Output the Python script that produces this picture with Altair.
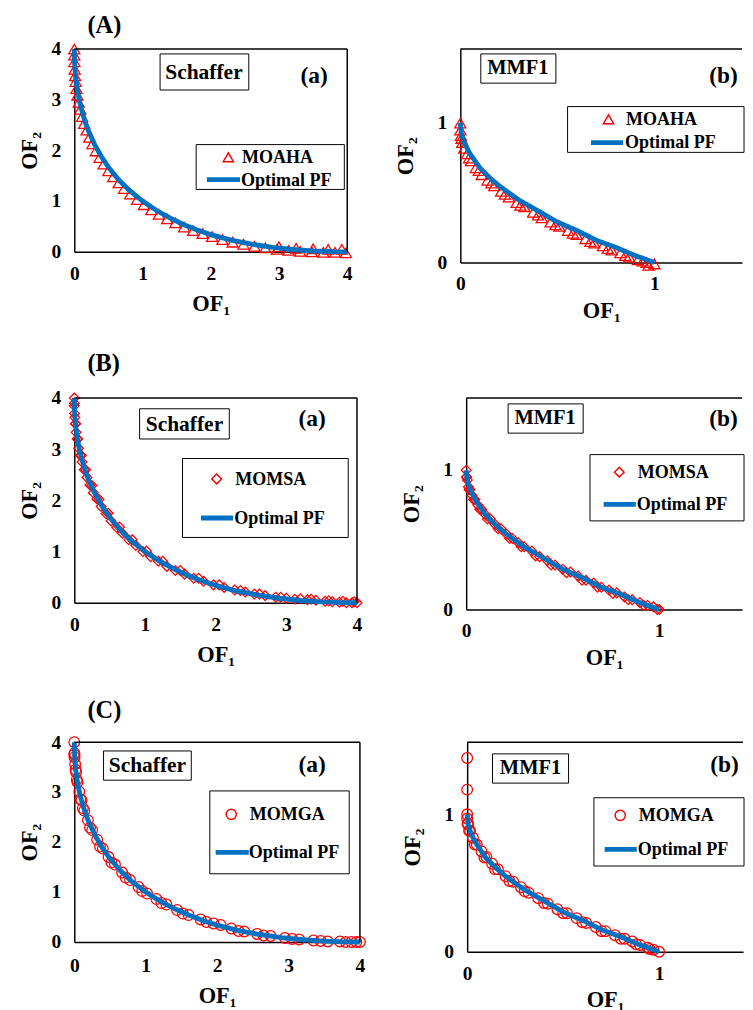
import altair as alt
import pandas as pd

FONT = "Liberation Serif"
RED = "#FF0000"
BLUE = "#0070C0"

# ---------------- data ----------------
# Optimal Pareto fronts
sch_pf_f1 = [0, 0.005, 0.01, 0.02, 0.04, 0.07, 0.1, 0.15, 0.2, 0.3, 0.4, 0.5, 0.65, 0.8, 1.0,
             1.2, 1.4, 1.6, 1.8, 2.0, 2.3, 2.6, 2.9, 3.2, 3.5, 3.8, 4.0]
sch_pf_f2 = [4.0, 3.72, 3.61, 3.45, 3.24, 3.01, 2.84, 2.60, 2.41, 2.11, 1.87, 1.67, 1.42, 1.22, 1.0,
             0.82, 0.67, 0.54, 0.43, 0.34, 0.23, 0.15, 0.088, 0.045, 0.017, 0.003, 0.0]
mmf_pf_f1 = [0, 0.005, 0.02, 0.05, 0.1, 0.15, 0.2, 0.3, 0.4, 0.5, 0.6, 0.7, 0.8, 0.9, 1.0]
mmf_pf_f2 = [1.0, 0.93, 0.86, 0.78, 0.68, 0.61, 0.55, 0.45, 0.37, 0.29, 0.23, 0.16, 0.11, 0.05, 0.0]

# (A) MOAHA
moaha_sch_f1 = [0.0, 0.0, 0.002, 0.006, 0.012, 0.02, 0.032, 0.046, 0.065, 0.088, 0.115, 0.145, 0.18,
                0.22, 0.265, 0.315, 0.37, 0.43, 0.5, 0.57, 0.65, 0.73, 0.82, 0.92, 1.02, 1.13, 1.24,
                1.36, 1.48, 1.61, 1.74, 1.88, 2.02, 2.17, 2.32, 2.48, 2.64, 2.8, 2.97, 3.14, 3.31,
                3.48, 3.65, 3.82, 3.98, 3.0, 3.25, 3.5, 3.72, 3.92]
moaha_sch_f2 = [4.0, 3.88, 3.75, 3.60, 3.47, 3.36, 3.22, 3.09, 2.95, 2.81, 2.67, 2.53, 2.40,
                2.26, 2.13, 1.99, 1.86, 1.73, 1.60, 1.48, 1.36, 1.25, 1.14, 1.03, 0.93, 0.83, 0.74,
                0.65, 0.57, 0.49, 0.42, 0.36, 0.30, 0.24, 0.19, 0.15, 0.11, 0.08, 0.05, 0.03, 0.01,
                0.0, -0.01, -0.01, -0.02, 0.10, 0.07, 0.06, 0.05, 0.05]
moaha_mmf_f1 = [0.0, 0.0, 0.003, 0.01, 0.02, 0.035, 0.055, 0.08, 0.11, 0.14, 0.175, 0.21, 0.25, 0.29,
                0.33, 0.375, 0.42, 0.465, 0.51, 0.555, 0.6, 0.645, 0.69, 0.735, 0.78, 0.825, 0.87,
                0.915, 0.96, 1.0, 0.97,
                0.006, 0.045, 0.095, 0.16, 0.23, 0.31, 0.4, 0.49, 0.58, 0.67, 0.76, 0.85, 0.94]
moaha_mmf_f2 = [1.0, 0.95, 0.91, 0.86, 0.82, 0.78, 0.73, 0.68, 0.63, 0.59, 0.55, 0.51, 0.47, 0.43,
                0.40, 0.36, 0.32, 0.29, 0.26, 0.23, 0.20, 0.17, 0.14, 0.12, 0.09, 0.07, 0.04,
                0.02, 0.0, -0.01, -0.02,
                0.89, 0.75, 0.66, 0.57, 0.49, 0.41, 0.34, 0.27, 0.21, 0.15, 0.10, 0.05, 0.01]

# (B) MOMSA
momsa_sch_f1 = [0.0, 0.0, 0.003, 0.008, 0.015, 0.025, 0.04, 0.06, 0.085, 0.11, 0.14, 0.18, 0.22,
                0.27, 0.32, 0.38, 0.45, 0.52, 0.6, 0.68, 0.77, 0.87, 0.97, 1.08, 1.19, 1.31, 1.43,
                1.56, 1.69, 1.83, 1.97, 2.12, 2.27, 2.42, 2.55, 2.7, 2.85, 3.0, 3.12, 3.3, 3.42,
                3.55, 3.65, 3.75, 3.85, 3.93, 4.0,
                0.001, 0.02, 0.05, 0.1, 0.16, 0.25, 0.35, 0.48, 0.64, 0.82, 1.02, 1.25, 1.5, 1.76,
                2.05, 2.35, 2.62, 2.92, 3.2, 3.35, 3.6, 3.8, 3.96]
momsa_sch_f2 = [4.0, 3.85, 3.70, 3.62, 3.50, 3.33, 3.20, 3.02, 2.88, 2.75, 2.60, 2.45, 2.30,
                2.15, 2.03, 1.88, 1.74, 1.60, 1.47, 1.36, 1.23, 1.12, 1.00, 0.90, 0.81, 0.71, 0.63,
                0.56, 0.48, 0.42, 0.35, 0.30, 0.25, 0.21, 0.17, 0.14, 0.11, 0.09, 0.07, 0.06, 0.05,
                0.03, 0.02, 0.01, 0.0, 0.0, 0.0,
                3.90, 3.50, 3.20, 2.88, 2.60, 2.29, 2.02, 1.75, 1.48, 1.23, 1.01, 0.81, 0.63, 0.48,
                0.35, 0.24, 0.17, 0.11, 0.08, 0.07, 0.04, 0.03, 0.02]
momsa_mmf_f1 = [0.0, 0.002, 0.006, 0.012, 0.02, 0.03, 0.045, 0.06, 0.08, 0.1, 0.125, 0.15, 0.18,
                0.21, 0.24, 0.27, 0.3, 0.34, 0.38, 0.42, 0.46, 0.5, 0.54, 0.58, 0.62, 0.66, 0.7,
                0.74, 0.78, 0.82, 0.86, 0.9, 0.94, 0.97, 1.0,
                0.001, 0.015, 0.038, 0.07, 0.11, 0.165, 0.225, 0.285, 0.36, 0.44, 0.52, 0.6, 0.68,
                0.76, 0.84, 0.92, 0.99]
momsa_mmf_f2 = [1.0, 0.95, 0.93, 0.88, 0.86, 0.82, 0.79, 0.75, 0.72, 0.68, 0.65, 0.61, 0.58,
                0.54, 0.51, 0.48, 0.45, 0.42, 0.38, 0.35, 0.32, 0.29, 0.27, 0.24, 0.21, 0.19, 0.16,
                0.14, 0.12, 0.09, 0.07, 0.05, 0.03, 0.02, 0.0,
                0.95, 0.86, 0.79, 0.72, 0.65, 0.58, 0.51, 0.45, 0.385, 0.32, 0.265, 0.21, 0.16,
                0.115, 0.07, 0.03, 0.0]

# (C) MOMGA
momga_sch_f1 = [0.0, 0.0, 0.004, 0.012, 0.025, 0.045, 0.07, 0.1, 0.14, 0.19, 0.25, 0.32, 0.4, 0.48,
                0.57, 0.67, 0.78, 0.9, 1.02, 1.15, 1.29, 1.44, 1.6, 1.77, 1.95, 2.05, 2.2, 2.38,
                2.56, 2.75, 2.95, 3.15, 3.35, 3.55, 3.72, 3.88, 4.0,
                0.002, 0.018, 0.035, 0.085, 0.12, 0.22, 0.36, 0.52, 0.72, 0.95, 1.22, 1.52, 1.85,
                2.3, 2.65, 3.05, 3.45, 3.8, 3.95]
momga_sch_f2 = [4.0, 3.75, 3.70, 3.56, 3.40, 3.20, 3.01, 2.84, 2.63, 2.44, 2.24, 2.05, 1.87, 1.70,
                1.55, 1.39, 1.24, 1.10, 0.97, 0.86, 0.75, 0.64, 0.54, 0.45, 0.37, 0.34, 0.27, 0.21,
                0.16, 0.12, 0.08, 0.05, 0.03, 0.01, 0.01, 0.0, 0.0,
                3.78, 3.45, 3.25, 2.86, 2.68, 2.29, 1.91, 1.59, 1.29, 1.02, 0.78, 0.57, 0.40,
                0.22, 0.13, 0.06, 0.02, 0.0, 0.0]
momga_mmf_f1 = [0.0, 0.0, 0.0, 0.0, 0.005, 0.015, 0.03, 0.05, 0.075, 0.1, 0.13, 0.16, 0.2, 0.24,
                0.28, 0.32, 0.37, 0.42, 0.47, 0.52, 0.57, 0.62, 0.67, 0.72, 0.77, 0.82, 0.86, 0.9,
                0.94, 0.97, 1.0,
                0.002, 0.01, 0.04, 0.09, 0.145, 0.22, 0.3, 0.4, 0.5, 0.6, 0.7, 0.8, 0.88, 0.95]
momga_mmf_f2 = [1.41, 1.18, 1.0, 0.97, 0.93, 0.88, 0.83, 0.78, 0.73, 0.69, 0.64, 0.60, 0.55, 0.51,
                0.47, 0.43, 0.39, 0.35, 0.31, 0.28, 0.245, 0.21, 0.18, 0.15, 0.12, 0.095, 0.075,
                0.05, 0.03, 0.015, 0.0,
                0.93, 0.88, 0.78, 0.685, 0.60, 0.515, 0.44, 0.355, 0.28, 0.215, 0.15, 0.095, 0.055,
                0.02]

one = pd.DataFrame({"k": [0]})


def box(x1, x2, y1, y2):
    return alt.Chart(one).mark_rect(fill="white", stroke="black", strokeWidth=1).encode(
        x=alt.value(x1), x2=alt.value(x2), y=alt.value(y1), y2=alt.value(y2))


def txt(s, x, y, size, align="center"):
    return alt.Chart(one).mark_text(text=s, font=FONT, fontWeight="bold", fontSize=size,
                                    color="black", align=align, baseline="middle").encode(
        x=alt.value(x), y=alt.value(y))


def marker(shape, size, x, y):
    return alt.Chart(one).mark_point(shape=shape, filled=False, color=RED, size=size,
                                     strokeWidth=1.5, opacity=1).encode(
        x=alt.value(x), y=alt.value(y))


def seg(x1, x2, y, color=BLUE, w=5):
    return alt.Chart(one).mark_rule(color=color, strokeWidth=w).encode(
        x=alt.value(x1), x2=alt.value(x2), y=alt.value(y))


def vseg(x, y1, y2):
    return alt.Chart(one).mark_rule(color="black", strokeWidth=1.5).encode(
        x=alt.value(x), y=alt.value(y1), y2=alt.value(y2))


AX = dict(grid=False, ticks=False, domainColor="black", domainWidth=1.5, labelFlush=False,
          labelFont=FONT, labelFontSize=20, labelFontWeight="bold", labelColor="black",
          titleFont=FONT, titleFontSize=23, titleFontWeight="bold", titleColor="black",
          format="d")


def panel(pf1, pf2, p1, p2, shape, size, xdom, ydom, ticks_x, ticks_y, W, H, full, decos,
          xlp=12, xtp=6, ylp=14, ytp=12):
    pts = pd.DataFrame({"f1": p1, "f2": p2})
    pf = pd.DataFrame({"f1": pf1, "f2": pf2})
    xs = alt.Scale(domain=xdom, nice=False, zero=False)
    ys = alt.Scale(domain=ydom, nice=False, zero=False)
    xa = alt.Axis(values=ticks_x, title="OF₁", labelPadding=xlp, titlePadding=xtp, **AX)
    ya = alt.Axis(values=ticks_y, title="OF₂", labelPadding=ylp, titlePadding=ytp, **AX)
    scatter = alt.Chart(pts).mark_point(shape=shape, filled=False, color=RED, size=size,
                                        strokeWidth=1.3, opacity=1).encode(
        x=alt.X("f1:Q", scale=xs, axis=xa), y=alt.Y("f2:Q", scale=ys, axis=ya))
    line = alt.Chart(pf).mark_line(color=BLUE, strokeWidth=5).encode(x="f1:Q", y="f2:Q")
    layers = [scatter, line, seg(0, W, 0, "black", 1.5)]
    if full:
        layers.append(vseg(W, 0, H))
    layers += decos
    return alt.layer(*layers).properties(width=W, height=H)


def legend(x1, x2, y1, y2, shape, msize, mx, my, name, lx1, lx2, ly, tx):
    return [box(x1, x2, y1, y2), marker(shape, msize, mx, my), txt(name, tx, my, 18.5, "left"),
            seg(lx1, lx2, ly), txt("Optimal PF", tx - 1, ly, 18.5, "left")]


def title(s, dx, off):
    return alt.TitleParams(text=s, anchor="start", font=FONT, fontWeight="bold", fontSize=25,
                           color="black", dx=dx, offset=off)


# ---------------- row A ----------------
a_left = panel(sch_pf_f1, sch_pf_f2, moaha_sch_f1, moaha_sch_f2, "triangle-up", 130,
               [0, 4], [0, 4], [0, 1, 2, 3, 4], [0, 1, 2, 3, 4], 280, 208, True,
               [box(88, 179, 5, 42), txt("Schaffer", 133, 24, 22), txt("(a)", 246, 28, 24)]
               + legend(125, 277, 98, 144, "triangle-up", 110, 158, 111, "MOAHA", 136, 170, 134, 172),
               xtp=10, ylp=14, ytp=10)
a_right = panel(mmf_pf_f1, mmf_pf_f2, moaha_mmf_f1, moaha_mmf_f2, "triangle-up", 130,
                [0, 1.452], [0, 1.531], [0, 1], [0, 1], 289, 219, False,
                [box(21, 98, 5, 35), txt("MMF1", 59, 20, 21), txt("(b)", 270, 28, 24)]
                + legend(110, 291, 59, 106, "triangle-up", 110, 152, 72, "MOAHA", 134, 167, 96, 170),
                ylp=14, ytp=20)
rowA = alt.hconcat(a_left, a_right, spacing=37, title=title("(A)", 71, 1))

# ---------------- row B ----------------
b_left = panel(sch_pf_f1, sch_pf_f2, momsa_sch_f1, momsa_sch_f2, "diamond", 100,
               [0, 4], [0, 4], [0, 1, 2, 3, 4], [0, 1, 2, 3, 4], 290, 210, True,
               [box(67, 159, 11, 42), txt("Schaffer", 113, 27, 22), txt("(a)", 244, 22, 24)]
               + legend(111, 281, 62, 143, "diamond", 100, 146, 83, "MOMSA", 130, 163, 123, 165),
               xtp=10, ylp=14, ytp=10)
b_right = panel(mmf_pf_f1, mmf_pf_f2, momsa_mmf_f1, momsa_mmf_f2, "diamond", 100,
                [0, 1.429], [0, 1.517], [0, 1], [0, 1], 283, 217, False,
                [box(43, 120, 6, 36), txt("MMF1", 81, 21, 21), txt("(b)", 264, 22, 24)]
                + legend(127, 285, 58, 126, "diamond", 100, 157, 76, "MOMSA", 141, 174, 109, 176),
                ylp=14, ytp=20)
rowB = alt.hconcat(b_left, b_right, spacing=33, title=title("(B)", 71, 12))

# ---------------- row C ----------------
c_left = panel(sch_pf_f1, sch_pf_f2, momga_sch_f1, momga_sch_f2, "circle", 120,
               [0, 4], [0, 4], [0, 1, 2, 3, 4], [0, 1, 2, 3, 4], 293, 205, True,
               [box(30, 120, 9, 39), txt("Schaffer", 75, 24, 22), txt("(a)", 244, 24, 24)]
               + legend(139, 282, 50, 135, "circle", 110, 161, 74, "MOMGA", 145, 179, 113, 180),
               xlp=14, xtp=10, ylp=14, ytp=10)
c_right = panel(mmf_pf_f1, mmf_pf_f2, momga_mmf_f1, momga_mmf_f2, "circle", 120,
                [0, 1.437], [0, 1.525], [0, 1], [0, 1], 283, 215, False,
                [box(26, 104, 12, 42), txt("MMF1", 65, 27, 21), txt("(b)", 264, 24, 24)]
                + legend(130, 284, 57, 127, "circle", 110, 157, 75, "MOMGA", 141, 174, 110, 176),
                ylp=14, ytp=20)
rowC = alt.hconcat(c_left, c_right, spacing=31, title=title("(C)", 71, 9))

chart = alt.vconcat(rowA, rowB, rowC, spacing=29).properties(
    padding={"left": 10, "top": -8, "right": 0, "bottom": 0}, background="white"
).configure_view(stroke="transparent")

chart.save("out.html", embed_options={"renderer": "svg", "actions": False})
